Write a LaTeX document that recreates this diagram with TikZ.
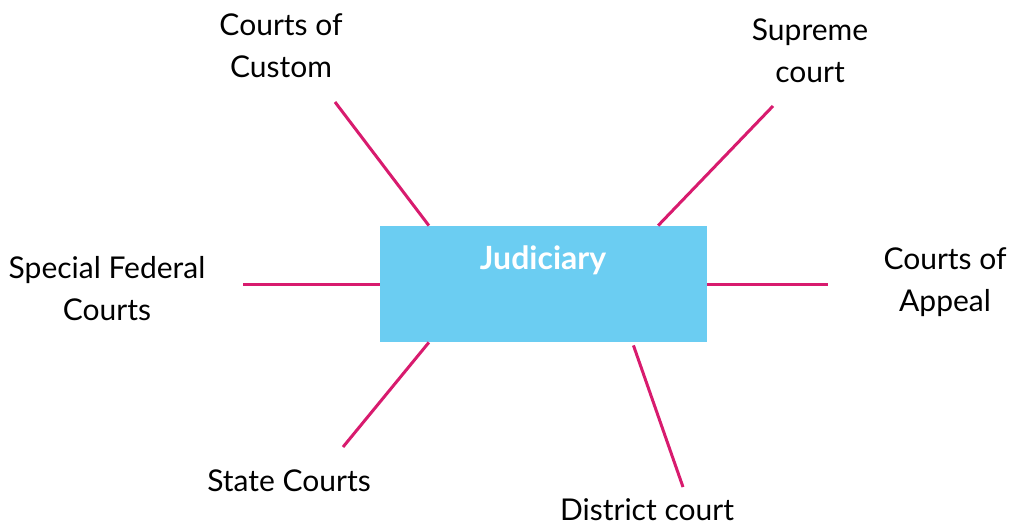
\documentclass[tikz,border=0pt]{standalone}
\usepackage{fontspec}
\setmainfont{Lato}
\usetikzlibrary{positioning}

\definecolor{boxblue}{HTML}{6BCDF2}
\definecolor{linkpink}{HTML}{D81B6E}

\tikzset{
  court/.style={align=center, font=\fontsize{15}{21}\selectfont, text=black},
  link/.style={linkpink, line width=1.5pt},
  hub/.style={fill=boxblue, minimum width=163.5pt, minimum height=58pt, inner sep=0pt}
}

\begin{document}
\begin{tikzpicture}[x=0.5pt, y=-0.5pt]  % 1 unit = 1 pixel of the reference

  % page size, same as the reference
  \useasboundingbox (0,0) rectangle (1016,525);

  % the blue box in the middle
  \node[hub] (box) at (543.5,284) {};
  \node[text=white, font=\fontsize{16}{18}\selectfont\bfseries] (title) at (543,260) {Judiciary};

  % free ends of the connectors
  \coordinate (custom)   at (335,102);
  \coordinate (supreme)  at (773,106);
  \coordinate (special)  at (243,284);
  \coordinate (appeal)   at (828,284);
  \coordinate (state)    at (343,447);
  \coordinate (district) at (683,487);

  % the labels
  \node[court] (lcustom)   at (281,46)  {Courts of\\Custom};
  \node[court] (lsupreme)  at (810,51)  {Supreme\\court};
  \node[court] (lspecial)  at (107,289) {Special Federal\\Courts};
  \node[court] (lappeal)   at (945,282) {Courts of\\Appeal};
  \node[court] (lstate)    at (289,481) {State Courts};
  \node[court] (ldistrict) at (647,510) {District court};

  % connectors, from the box border out
  \draw[link] (box.153.3) -- (custom);
  \draw[link] (box.27.5)  -- (supreme);
  \draw[link] (box.180)   -- (special);
  \draw[link] (box.0)     -- (appeal);
  \draw[link] (box.207.9) -- (state);
  \draw[link] ([yshift=-1.5pt]box.327) -- (district);

\end{tikzpicture}
\end{document}
